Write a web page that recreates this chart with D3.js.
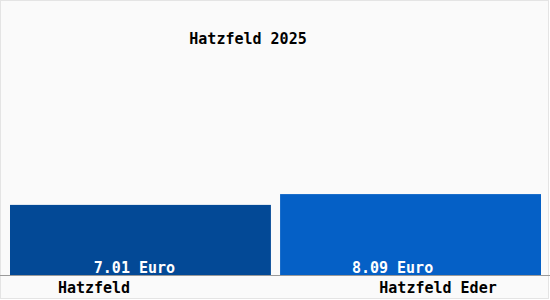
<!DOCTYPE html>
<html>
<head>
<meta charset="utf-8">
<script src="https://cdn.jsdelivr.net/npm/d3@7"></script>
<style>
  body { margin: 0; background: #fff; }
  text { font-family: "DejaVu Sans Mono", monospace; font-weight: bold; }
</style>
</head>
<body>
<script>
// chart data
let title = "Hatzfeld 2025"
let categories = ["Hatzfeld", "Hatzfeld Eder"]
let values = [7.01, 8.09]
let valueLabels = ["7.01 Euro", "8.09 Euro"]
let barColors = ["#034996", "#0560c6"]

let svgWidth = 550
let svgHeight = 300

let svg = d3.select("body")
  .append("svg")
  .attr("width", svgWidth)
  .attr("height", svgHeight)

// background and frame
svg.append("rect")
  .attr("x", 0.5).attr("y", 0.5)
  .attr("width", svgWidth - 2).attr("height", svgHeight - 2)
  .attr("fill", "#fafafa")
  .attr("stroke", "#e4e4e4")

let baseline = 275

let xScale = d3.scaleBand()
  .domain(categories)
  .range([10, 541])
  .paddingInner(0.034)

let yScale = d3.scaleLinear()
  .domain([0, 27])
  .range([baseline, 5])

svg.selectAll(".bar")
  .data(values)
  .enter().append("rect")
  .attr("class", "bar")
  .attr("x", (d, i) => xScale(categories[i]))
  .attr("y", d => yScale(d))
  .attr("width", xScale.bandwidth())
  .attr("height", d => baseline - yScale(d))
  .attr("fill", (d, i) => barColors[i])

// axis line
svg.append("line")
  .attr("x1", 0).attr("x2", svgWidth)
  .attr("y1", baseline + 0.5).attr("y2", baseline + 0.5)
  .attr("stroke", "#9a9a9a")

// value labels inside bars
svg.selectAll(".val")
  .data(valueLabels)
  .enter().append("text")
  .attr("class", "val")
  .attr("x", (d, i) => xScale(categories[i]) + xScale.bandwidth() / 2 - (i == 0 ? 6 : 18))
  .attr("y", baseline - 2)
  .attr("text-anchor", "middle")
  .attr("font-size", 15)
  .attr("fill", "#ffffff")
  .text(d => d)

// category labels
svg.selectAll(".cat")
  .data(categories)
  .enter().append("text")
  .attr("class", "cat")
  .attr("x", (d, i) => i == 0 ? 94 : 438)
  .attr("y", 293)
  .attr("text-anchor", "middle")
  .attr("font-size", 15)
  .attr("fill", "#000")
  .text(d => d)

svg.append("text")
  .attr("x", 248)
  .attr("y", 44)
  .attr("text-anchor", "middle")
  .attr("font-size", 15)
  .attr("fill", "#000")
  .text(title)
</script>
</body>
</html>
